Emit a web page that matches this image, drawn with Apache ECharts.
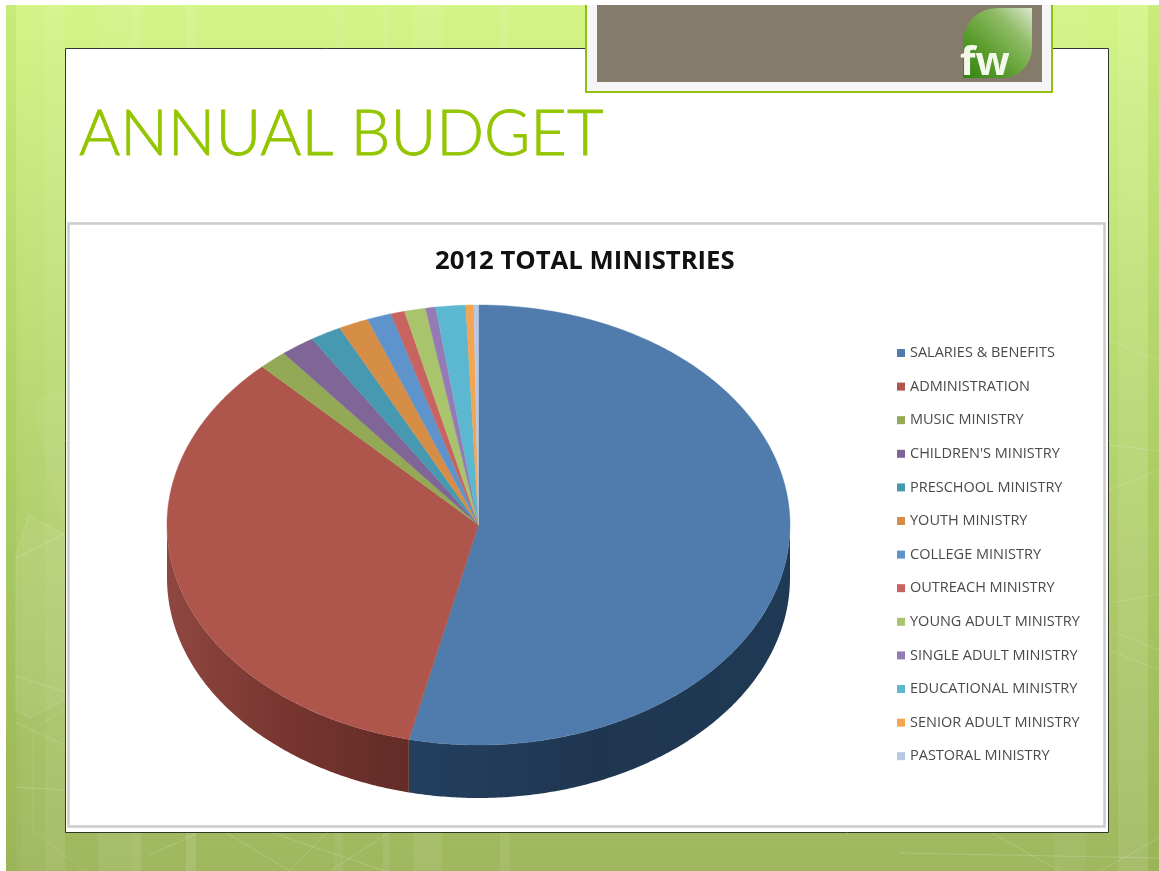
<!DOCTYPE html>
<html>
<head>
<meta charset="utf-8">
<title>Annual Budget</title>
<style>
html, body { margin: 0; padding: 0; background: #fff; }
#container { width: 1159px; height: 871px; }
</style>
<script src="https://cdn.jsdelivr.net/npm/echarts@6/dist/echarts.min.js"></script>
</head>
<body>
<div id="container"></div>
<script>
var dom = document.getElementById("container");
var myChart = echarts.init(dom);

var slideTitle = "ANNUAL BUDGET";
var chartTitle = "2012 TOTAL MINISTRIES";

var categories = [
    "SALARIES & BENEFITS", "ADMINISTRATION", "MUSIC MINISTRY", "CHILDREN'S MINISTRY",
    "PRESCHOOL MINISTRY", "YOUTH MINISTRY", "COLLEGE MINISTRY", "OUTREACH MINISTRY",
    "YOUNG ADULT MINISTRY", "SINGLE ADULT MINISTRY", "EDUCATIONAL MINISTRY",
    "SENIOR ADULT MINISTRY", "PASTORAL MINISTRY"
];
// share of the budget in percent
var shares = [53.6, 34.2, 1.47, 1.78, 1.62, 1.56, 1.26, 0.71, 1.10, 0.52, 1.55, 0.41, 0.24];
var colors = [
    "#4f7cac", "#ae554c", "#93a955", "#7f6696", "#4699b1", "#d68d46", "#5f93cb",
    "#c9635f", "#a8c46c", "#957ab5", "#5bb8d0", "#f5a54f", "#b8c8e4"
];
// wall shading, walked clockwise along the rim
var sideColors = {
    0: ["#1f3a55", "#1f3650", "#24405f"],
    1: ["#622c27", "#77352f", "#8f4741"]
};

// pie geometry: an ellipse with a wall below it
var cx = 478.5, cy = 525, rx = 311.5, ry = 220, depth = 53;

var total = shares.reduce(function (a, b) { return a + b; }, 0);

function rimPoint(deg, dy) {
    var t = deg * Math.PI / 180;
    return [cx + rx * Math.sin(t), cy - ry * Math.cos(t) + (dy || 0)];
}

function arc(from, to, dy) {
    var pts = [];
    var steps = Math.max(2, Math.ceil((to - from) * 2));
    for (var k = 0; k <= steps; k++) {
        pts.push(rimPoint(from + (to - from) * k / steps, dy));
    }
    return pts;
}

function renderSlice(index) {
    return function (params, api) {
        var before = 0;
        for (var i = 0; i < index; i++) before += shares[i];
        var from = before / total * 360;
        var to = (before + api.value(0)) / total * 360;
        var children = [];

        // the front wall shows only between 90 and 270 degrees
        var wallFrom = Math.max(from, 90), wallTo = Math.min(to, 270);
        if (wallTo > wallFrom && sideColors[index]) {
            var lower = arc(wallFrom, wallTo, depth);
            var upper = arc(wallFrom, wallTo, 0).reverse();
            var x0 = rimPoint(wallFrom)[0], x1 = rimPoint(wallTo)[0];
            var c = sideColors[index];
            children.push({
                type: 'polygon',
                shape: { points: lower.concat(upper) },
                style: {
                    fill: new echarts.graphic.LinearGradient(x0, 0, x1, 0, [
                        { offset: 0, color: c[0] },
                        { offset: 0.5, color: c[1] },
                        { offset: 1, color: c[2] }
                    ], true)
                }
            });
        }

        children.push({
            type: 'polygon',
            shape: { points: [[cx, cy]].concat(arc(from, to, 0)) },
            style: { fill: colors[index], stroke: colors[index], lineWidth: 0.4 }
        });
        return { type: 'group', children: children };
    };
}

var bgBands = [
    [22, 23, 0.03], [45, 20, 0.08], [98, 34, 0.07], [132, 9, 0.11], [186, 10, 0.11],
    [334, 9, 0.06], [383, 7, 0.08], [413, 29, 0.08], [500, 10, 0.08], [1055, 30, 0.05],
    [1118, 30, 0.09]
];

function light(points, alpha, fillAlpha) {
    return {
        type: 'polygon',
        shape: { points: points },
        silent: true,
        style: {
            fill: 'rgba(255,255,255,' + (fillAlpha || 0) + ')',
            stroke: 'rgba(255,255,255,' + alpha + ')',
            lineWidth: 1
        }
    };
}

function line(x1, y1, x2, y2, alpha) {
    return {
        type: 'line',
        silent: true,
        shape: { x1: x1, y1: y1, x2: x2, y2: y2 },
        style: { stroke: 'rgba(255,255,255,' + alpha + ')', lineWidth: 1 }
    };
}

function box(x, y, w, h, fill, stroke, r, lw) {
    return {
        type: 'rect',
        silent: true,
        shape: { x: x, y: y, width: w, height: h, r: r || 0 },
        style: { fill: fill, stroke: stroke || null, lineWidth: stroke ? (lw || 1) : 0 }
    };
}

var backdrop = [
    box(6, 5, 1153, 866, new echarts.graphic.LinearGradient(0, 0, 0, 1, [
        { offset: 0, color: "#d3f486" },
        { offset: 0.45, color: "#b7d870" },
        { offset: 1, color: "#9fb75e" }
    ]))
];
bgBands.forEach(function (b) {
    backdrop.push(box(b[0], 5, b[1], 866, 'rgba(255,255,255,' + b[2] + ')'));
});
backdrop.push(box(6, 5, 10, 866, 'rgba(120,170,40,0.12)'));
backdrop.push(box(1148, 5, 11, 866, 'rgba(120,170,40,0.1)'));
backdrop.push(
    light([[36, 418], [36, 400], [65, 388], [65, 530]], 0.04, 0.04),
    light([[16, 555], [29, 515], [65, 535], [65, 700], [30, 718], [16, 710]], 0.14, 0.06),
    line(16, 558, 65, 533, 0.2),
    line(16, 676, 65, 692, 0.15),
    line(14, 722, 65, 745, 0.15),
    line(33, 730, 65, 708, 0.12),
    line(33, 730, 33, 830, 0.12),
    line(33, 830, 85, 871, 0.12),
    line(15, 787, 65, 790, 0.18),
    line(1109, 205, 1159, 188, 0.13),
    line(1109, 340, 1159, 360, 0.16),
    line(1109, 445, 1159, 451, 0.16),
    line(1109, 490, 1159, 470, 0.16),
    line(1109, 603, 1159, 594, 0.16),
    line(1109, 630, 1159, 650, 0.16),
    line(1109, 650, 1159, 670, 0.16),
    line(150, 855, 200, 832, 0.18),
    line(225, 832, 290, 871, 0.18),
    line(270, 832, 385, 871, 0.18),
    line(290, 871, 327, 832, 0.18),
    line(330, 871, 390, 832, 0.18),
    line(990, 832, 1060, 871, 0.18),
    line(900, 853, 1159, 858, 0.18),
    line(1100, 871, 1159, 838, 0.18)
);

// slide panel, chart frame, logo box
var panel = [
    box(65.5, 48.5, 1043, 784, "#ffffff", "#33362c"),
    box(68.5, 223.5, 1036, 603, "#ffffff", "#cccccc", 0, 2.5),
    box(586, -4, 466, 96, "#f5f5f5", "#8fbf10", 0, 2),
    box(0, 0, 1159, 5, "#ffffff"),
    box(597, 5, 445, 77, "#857b6b"),
    box(963, 8, 69, 70, new echarts.graphic.LinearGradient(1, 0, 0, 1, [
        { offset: 0, color: "#dbe8cf" },
        { offset: 0.3, color: "#8fbb66" },
        { offset: 0.65, color: "#5a9c2c" },
        { offset: 1, color: "#2f8410" }
    ]), null, [34, 0, 30, 0]),
    {
        type: 'text',
        silent: true,
        x: 960,
        y: 44,
        style: { text: "fw", font: 'bold 40px "Open Sans"', fill: "#f4f8ea" }
    }
];

var option = {
    animation: false,
    backgroundColor: "#ffffff",
    graphic: { elements: backdrop.concat(panel) },
    title: [{
        text: slideTitle,
        left: 74,
        top: 98,
        textStyle: {
            fontFamily: 'Lato', fontWeight: 300, fontSize: 63, color: "#93c500",
            textBorderColor: "#93c500", textBorderWidth: 0.8
        }
    }, {
        text: chartTitle,
        left: 430,
        top: 244,
        textStyle: { fontFamily: 'Open Sans', fontWeight: 'bold', fontSize: 25.7, color: "#111111" }
    }],
    legend: {
        orient: 'vertical',
        left: 892,
        top: 340,
        icon: 'rect',
        itemWidth: 8,
        itemHeight: 8,
        itemGap: 17.6,
        selectedMode: false,
        data: categories,
        textStyle: { fontFamily: 'Open Sans', fontSize: 14.5, color: "#4a4a4a", lineHeight: 16 }
    },
    series: categories.map(function (name, i) {
        return {
            type: 'custom',
            name: name,
            coordinateSystem: 'none',
            silent: true,
            itemStyle: { color: colors[i] },
            data: [[shares[i]]],
            renderItem: renderSlice(i)
        };
    })
};

myChart.setOption(option);
</script>
</body>
</html>
